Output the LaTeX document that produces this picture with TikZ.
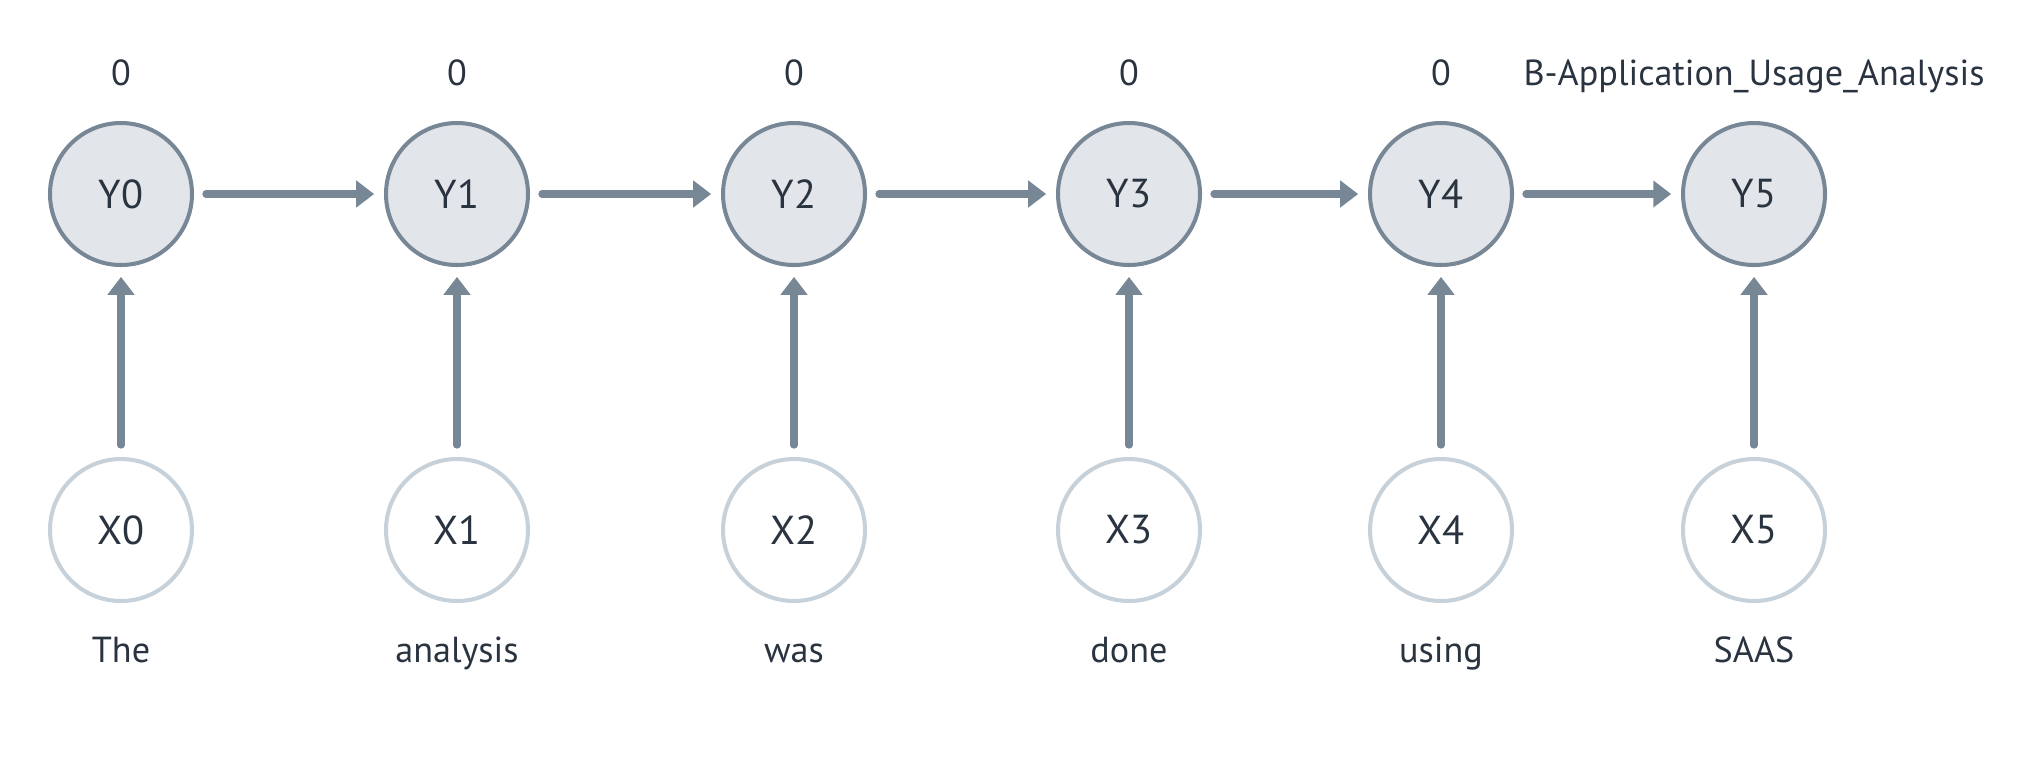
\documentclass[tikz,border=0pt]{standalone}
\usepackage{fontspec}
\setmainfont{PT Sans}
\usetikzlibrary{arrows.meta}
\definecolor{ynodefill}{HTML}{E2E6EA}
\definecolor{ynodedraw}{HTML}{788796}
\definecolor{xnodedraw}{HTML}{C7D1DA}
\definecolor{txt}{HTML}{2A3440}
\definecolor{arr}{HTML}{788796}
\begin{document}
\begin{tikzpicture}[x=0.1mm,y=-0.1mm,
  ynode/.style={circle,draw=ynodedraw,fill=ynodefill,line width=1.15pt,minimum size=40.4pt,inner sep=0pt,text=txt,font=\fontsize{11.5}{13}\selectfont},
  xnode/.style={circle,draw=xnodedraw,fill=white,line width=1.15pt,minimum size=40.4pt,inner sep=0pt,text=txt,font=\fontsize{11.5}{13}\selectfont},
  lab/.style={text=txt,font=\fontsize{10.3}{12}\selectfont,inner sep=0pt,anchor=base},
  conn/.style={draw=arr,line width=2.05pt,line cap=round,-{Triangle[length=5.1pt,width=7.4pt]},shorten <=3.4pt,shorten >=2.8pt}]
\useasboundingbox (0,0) rectangle (2040,772);
\foreach \i/\x/\t/\w in {0/121/0/The,1/457/0/analysis,2/794/0/was,3/1129/0/done,4/1441/0/using,5/1754/B-Application\_Usage\_Analysis/SAAS}{
  \node[ynode] (Y\i) at (\x,194) {Y\i};
  \node[xnode] (X\i) at (\x,530) {X\i};
  \node[lab] (T\i) at (\x,85) {\t};
  \node[lab] (W\i) at (\x,662) {\w};
}
\foreach \a/\b in {0/1,1/2,2/3,3/4,4/5}{
  \draw[conn] (Y\a) -- (Y\b);
}
\foreach \i in {0,...,5}{
  \draw[conn] (X\i) -- (Y\i);
}
\end{tikzpicture}
\end{document}
